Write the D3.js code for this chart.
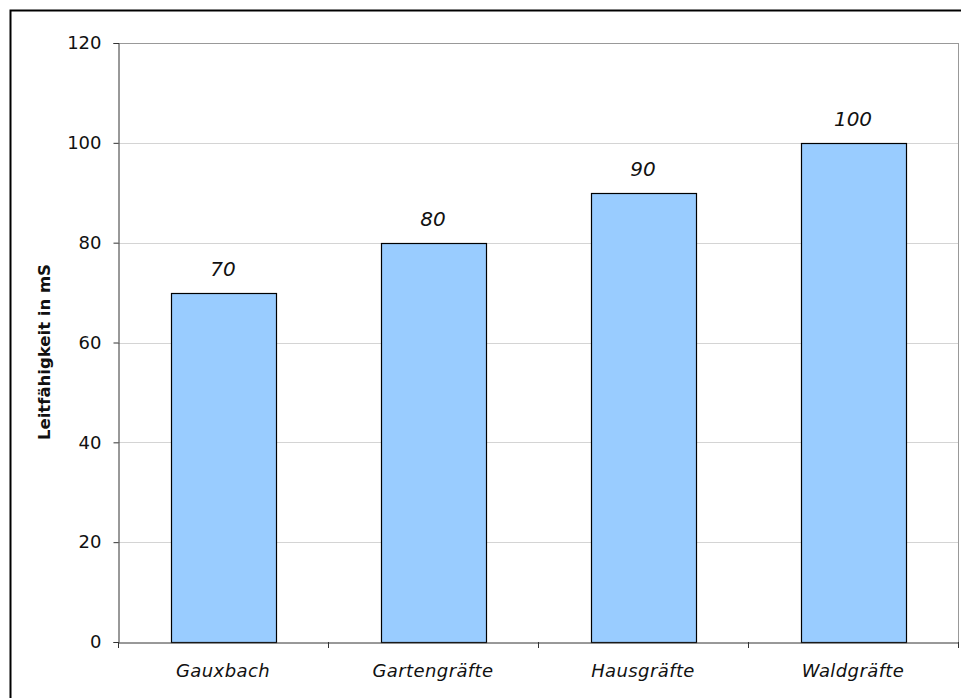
<!DOCTYPE html>
<html>
<head>
<meta charset="utf-8">
<script src="https://cdn.jsdelivr.net/npm/d3@7"></script>
<style>
  body { margin: 0; background: #fff; }
  svg { display: block; font-family: "DejaVu Sans", sans-serif; }
</style>
</head>
<body>
<svg width="961" height="698"></svg>
<script>
// Messwerte
let categories = ["Gauxbach", "Gartengräfte", "Hausgräfte", "Waldgräfte"];
let values = [70, 80, 90, 100];
let yTicks = [0, 20, 40, 60, 80, 100, 120];
let yTitle = "Leitfähigkeit in mS";

let svg = d3.select("svg"),
    width = +svg.attr("width"),
    height = +svg.attr("height");

// Rahmen um das ganze Diagramm (geht rechts/unten ueber den Rand)
svg.append("rect")
  .attr("x", 10.5).attr("y", 10.5)
  .attr("width", width).attr("height", height)
  .attr("fill", "none")
  .attr("stroke", "#000")
  .attr("stroke-width", 2);

const pLeft = 118, pRight = 958, pTop = 43, pBottom = 642;

let x = d3.scaleBand()
  .domain(categories)
  .range([pLeft, pRight])
  .paddingInner(0).paddingOuter(0);

let y = d3.scaleLinear()
  .domain([0, 120])
  .range([pBottom, pTop]);

// Gitterlinien
svg.append("g")
  .selectAll("line")
  .data(yTicks.filter(d => d > 0))
  .enter().append("line")
  .attr("x1", pLeft).attr("x2", pRight)
  .attr("y1", d => Math.round(y(d)) + 0.5)
  .attr("y2", d => Math.round(y(d)) + 0.5)
  .attr("stroke", "#d4d4d4");

// Plotflaeche rechts und oben
svg.append("line")
  .attr("x1", pRight + 0.5).attr("x2", pRight + 0.5)
  .attr("y1", pTop).attr("y2", pBottom)
  .attr("stroke", "#999");
svg.append("line")
  .attr("x1", pLeft).attr("x2", pRight)
  .attr("y1", pTop + 0.5).attr("y2", pTop + 0.5)
  .attr("stroke", "#999");

// Balken
svg.append("g")
  .selectAll("rect")
  .data(values)
  .enter().append("rect")
  .attr("x", (d, i) => Math.round(x(categories[i]) + x.bandwidth() / 4) + 0.5)
  .attr("y", d => Math.round(y(d)) + 0.5)
  .attr("width", Math.round(x.bandwidth() / 2))
  .attr("height", d => Math.round(y(0)) - Math.round(y(d)))
  .attr("fill", "#99ccff")
  .attr("stroke", "#000")
  .attr("stroke-width", 1.2);

// Wertebeschriftung
svg.append("g")
  .selectAll("text")
  .data(values)
  .enter().append("text")
  .attr("x", (d, i) => x(categories[i]) + x.bandwidth() / 2)
  .attr("y", d => y(d) - 17)
  .attr("text-anchor", "middle")
  .style("font-size", "20px")
  .style("font-style", "italic")
  .attr("fill", "#111")
  .text(d => d);

// y-Achse
let yAxis = svg.append("g")
  .attr("transform", `translate(${pLeft + 0.5},0)`)
  .call(d3.axisLeft(y).tickValues(yTicks).tickSize(5).tickPadding(12));
yAxis.select(".domain").attr("stroke", "#333");
yAxis.selectAll(".tick line").attr("stroke", "#333");
yAxis.selectAll(".tick text")
  .style("font-size", "18px")
  .style("font-family", "DejaVu Sans, sans-serif")
  .attr("fill", "#111");

// x-Achse
let xAxis = svg.append("g")
  .attr("transform", `translate(0,${pBottom + 0.5})`)
  .call(d3.axisBottom(x).tickSize(0).tickPadding(22));
xAxis.select(".domain").attr("stroke", "#333");
xAxis.selectAll(".tick text")
  .style("font-size", "18px")
  .style("font-style", "italic")
  .style("letter-spacing", "0.4px")
  .style("font-family", "DejaVu Sans, sans-serif")
  .attr("fill", "#111");

// Ticks an den Kategoriegrenzen
svg.append("g")
  .selectAll("line")
  .data(categories.concat(["end"]))
  .enter().append("line")
  .attr("x1", (d, i) => Math.round(pLeft + i * x.bandwidth()) + 0.5)
  .attr("x2", (d, i) => Math.round(pLeft + i * x.bandwidth()) + 0.5)
  .attr("y1", pBottom)
  .attr("y2", pBottom + 6)
  .attr("stroke", "#333");

// Achsentitel
svg.append("text")
  .attr("transform", `translate(50,352) rotate(-90)`)
  .attr("text-anchor", "middle")
  .style("font-size", "16.5px")
  .style("font-weight", "bold")
  .attr("fill", "#111")
  .text(yTitle);
</script>
</body>
</html>
